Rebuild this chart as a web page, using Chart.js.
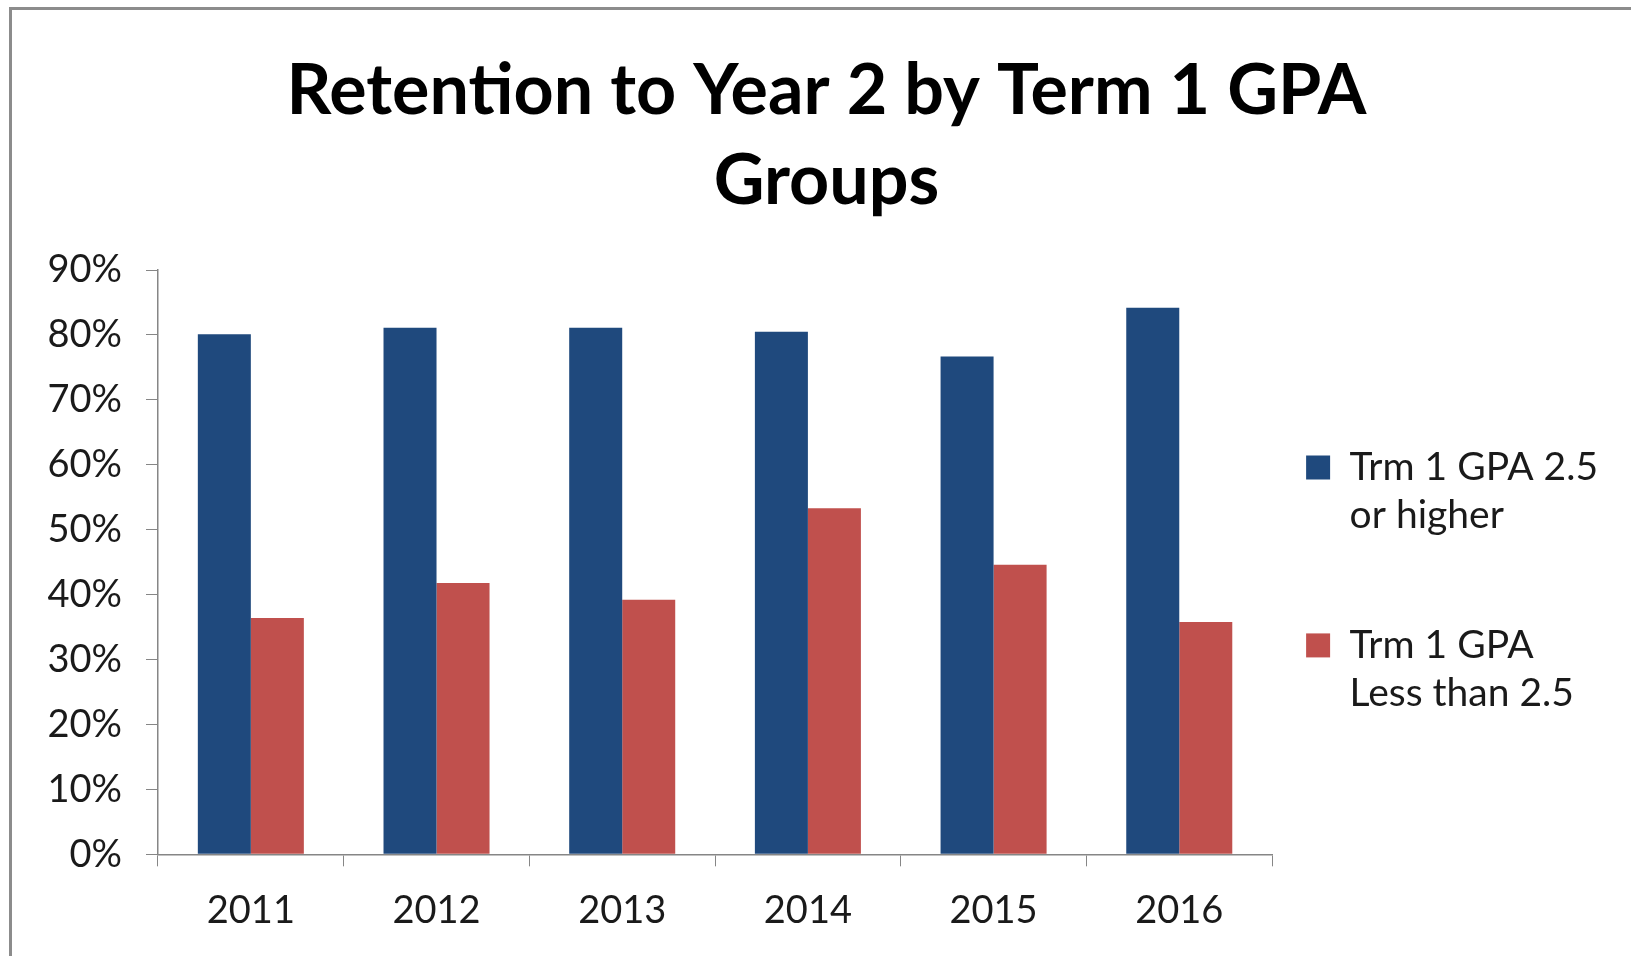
<!DOCTYPE html>
<html>
<head>
<meta charset="utf-8">
<script src="https://cdn.jsdelivr.net/npm/chart.js@4.4.0/dist/chart.umd.min.js"></script>
<style>
  html, body { margin: 0; padding: 0; background: #fff; overflow: hidden; }
  #frame { position: absolute; left: 9px; top: 7px; width: 1700px; height: 1100px; border: 3px solid #8c8c8c; }
  #wrap { position: absolute; left: 0; top: 0; width: 1631px; height: 956px; }
</style>
</head>
<body>
<div id="frame"></div>
<div id="wrap"><canvas id="retentionChart"></canvas></div>
<script>
const years = ['2011', '2012', '2013', '2014', '2015', '2016'];
const highGpa = [80.1, 81.1, 81.1, 80.5, 76.7, 84.2];
const lowGpa = [36.4, 41.8, 39.2, 53.3, 44.6, 35.8];
// empty third line keeps Excel-like spacing between the two legend entries
const seriesNames = [['Trm 1 GPA 2.5', 'or higher', ''], ['Trm 1 GPA', 'Less than 2.5', '']];
const titleLines = ['Retention to Year 2 by Term 1 GPA', 'Groups'];

const fontFamily = 'Lato, "Open Sans", sans-serif';
const axisColor = '#868686';

const ctx = document.getElementById('retentionChart').getContext('2d');
let chart = new Chart(ctx, {
  type: 'bar',
  data: {
    labels: years,
    datasets: [{
      label: seriesNames[0],
      data: highGpa,
      backgroundColor: '#1f497d',
      categoryPercentage: 0.571,
      barPercentage: 1
    }, {
      label: seriesNames[1],
      data: lowGpa,
      backgroundColor: '#c0504d',
      categoryPercentage: 0.571,
      barPercentage: 1
    }]
  },
  options: {
    responsive: true,
    maintainAspectRatio: false,
    animation: false,
    layout: { padding: { left: 45, right: 23, top: 0, bottom: 0 } },
    plugins: {
      title: {
        display: true,
        text: titleLines,
        color: '#000',
        font: { family: fontFamily, size: 70, weight: 'bold', lineHeight: 1.286 },
        padding: { top: 46, bottom: 44 }
      },
      legend: {
        position: 'right',
        align: 'start',
        // blank legend title only pushes the entries down next to the bars
        title: { display: true, text: ' ', font: { size: 10, lineHeight: 1 }, padding: { top: 404, bottom: 0 } },
        labels: {
          color: '#1a1a1a',
          font: { family: fontFamily, size: 39, lineHeight: 1.23 },
          boxWidth: 24,
          boxHeight: 24,
          padding: 34
        }
      },
      tooltip: { enabled: false }
    },
    scales: {
      x: {
        grid: { drawOnChartArea: false, color: axisColor, tickLength: 12, offset: true },
        border: { color: axisColor, width: 1.5 },
        ticks: { color: '#1a1a1a', font: { family: fontFamily, size: 38, lineHeight: 0.96 }, padding: 26.6 }
      },
      y: {
        min: 0,
        max: 90,
        afterFit: (scale) => { scale.width = 113; },
        grid: { drawOnChartArea: false, color: axisColor, tickLength: 12 },
        border: { color: axisColor, width: 1.5 },
        ticks: {
          stepSize: 10,
          color: '#1a1a1a',
          font: { family: fontFamily, size: 38 },
          padding: 24,
          callback: (v) => v + '%'
        }
      }
    }
  }
});
</script>
</body>
</html>
